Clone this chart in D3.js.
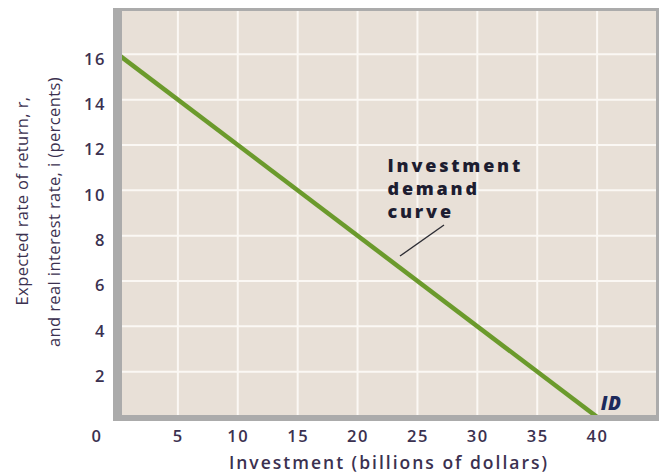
<!DOCTYPE html>
<html><head><meta charset="utf-8">
<script src="https://cdn.jsdelivr.net/npm/d3@7"></script>
<style>body{margin:0;background:#fff}svg{display:block}</style>
</head><body>
<svg id="c" width="659" height="475"></svg>
<script>
const xTicks = [5, 10, 15, 20, 25, 30, 35, 40];
const yTicks = [2, 4, 6, 8, 10, 12, 14, 16];
const xGrid = [5, 10, 15, 20, 25, 30, 35, 40];
const yGrid = [2, 4, 6, 8, 10, 12, 14, 16];
const investment = [0, 40];
const rate = [16, 0];
const annotationLines = ["Investment", "demand", "curve"];
const curveLabel = "ID";
const xTitle = "Investment (billions of dollars)";
const yTitle = ["Expected rate of return, r,", "and real interest rate, i (percents)"];

const svg = d3.select("#c");
const x = d3.scaleLinear().domain([0, 45]).range([118, 657]);
const y = d3.scaleLinear().domain([0, 18]).range([417, 9]);

// frame
svg.append("rect").attr("x", 113).attr("y", 8).attr("width", 546).attr("height", 413).attr("fill", "#ababab");
const inner = {x0: 122, y0: 11, x1: 656, y1: 415};
svg.append("rect").attr("x", inner.x0).attr("y", inner.y0).attr("width", inner.x1 - inner.x0).attr("height", inner.y1 - inner.y0).attr("fill", "#e8e0d7");
svg.append("clipPath").attr("id", "clip").append("rect")
  .attr("x", inner.x0).attr("y", inner.y0).attr("width", inner.x1 - inner.x0).attr("height", inner.y1 - inner.y0);
const g = svg.append("g").attr("clip-path", "url(#clip)");

g.selectAll(".vg").data(xGrid).join("line")
  .attr("x1", d => x(d)).attr("x2", d => x(d)).attr("y1", inner.y0).attr("y2", inner.y1)
  .attr("stroke", "#fbf8f4").attr("stroke-width", 2);
g.selectAll(".hg").data(yGrid).join("line")
  .attr("y1", d => y(d)).attr("y2", d => y(d)).attr("x1", inner.x0).attr("x2", inner.x1)
  .attr("stroke", "#fbf8f4").attr("stroke-width", 2);

const pts = investment.map((v, i) => [v, rate[i]]);
g.append("path").datum(pts)
  .attr("d", d3.line().x(d => x(d[0])).y(d => y(d[1])))
  .attr("fill", "none").attr("stroke", "#6b9a2c").attr("stroke-width", 4.5);

// axes (labels only)
const font = "'Open Sans', Lato, sans-serif";
const tickCol = "#3b3150";
function styleTicks(sel) {
  sel.attr("font-family", font).attr("font-size", 16.5).attr("font-weight", 600)
    .attr("fill", tickCol).attr("letter-spacing", 1.6);
}
const xAxis = d3.axisBottom(x).tickValues(xTicks).tickSize(0).tickPadding(0);
const xa = svg.append("g").attr("transform", "translate(0,442)").call(xAxis);
xa.select(".domain").remove();
xa.selectAll("text").call(styleTicks).attr("dy", 0);
const yAxis = d3.axisLeft(y).tickValues(yTicks).tickSize(0).tickPadding(0);
const ya = svg.append("g").attr("transform", "translate(106,0)").call(yAxis);
ya.select(".domain").remove();
ya.selectAll("text").call(styleTicks).attr("dy", "0.6em");
svg.append("text").attr("x", 97).attr("y", 442).attr("text-anchor", "middle").call(styleTicks).text("0");

// titles
svg.append("text").attr("x", 389).attr("y", 469).attr("text-anchor", "middle")
  .attr("font-family", font).attr("font-size", 17.5).attr("font-weight", 600).attr("letter-spacing", 2)
  .attr("fill", "#3b3150").text(xTitle);
yTitle.forEach((t, i) => {
  svg.append("text").attr("transform", `translate(${28 + i * 32},${i ? 212 : 201}) rotate(-90)`)
    .attr("text-anchor", "middle").attr("font-family", font).attr("font-size", 16.5).attr("font-weight", 500)
    .attr("letter-spacing", 0.4).attr("fill", "#3b3150").text(t);
});

// annotation
const ann = svg.append("text").attr("font-family", font).attr("font-size", 18).attr("font-weight", 800)
  .attr("letter-spacing", 2.8).attr("fill", "#1d1d30");
annotationLines.forEach((t, i) => {
  ann.append("tspan").attr("x", x(22.5)).attr("y", 172 + i * 23).text(t);
});
svg.append("line").attr("x1", 444).attr("y1", 225).attr("x2", 400).attr("y2", 256)
  .attr("stroke", "#2e2e35").attr("stroke-width", 1.4);
svg.append("text").attr("x", x(40.3)).attr("y", y(0.3)).attr("font-family", font).attr("font-size", 19)
  .attr("font-weight", 800).attr("font-style", "italic").attr("letter-spacing", 0.5)
  .attr("fill", "#1c2a5c").text(curveLabel);
</script>
</body></html>
